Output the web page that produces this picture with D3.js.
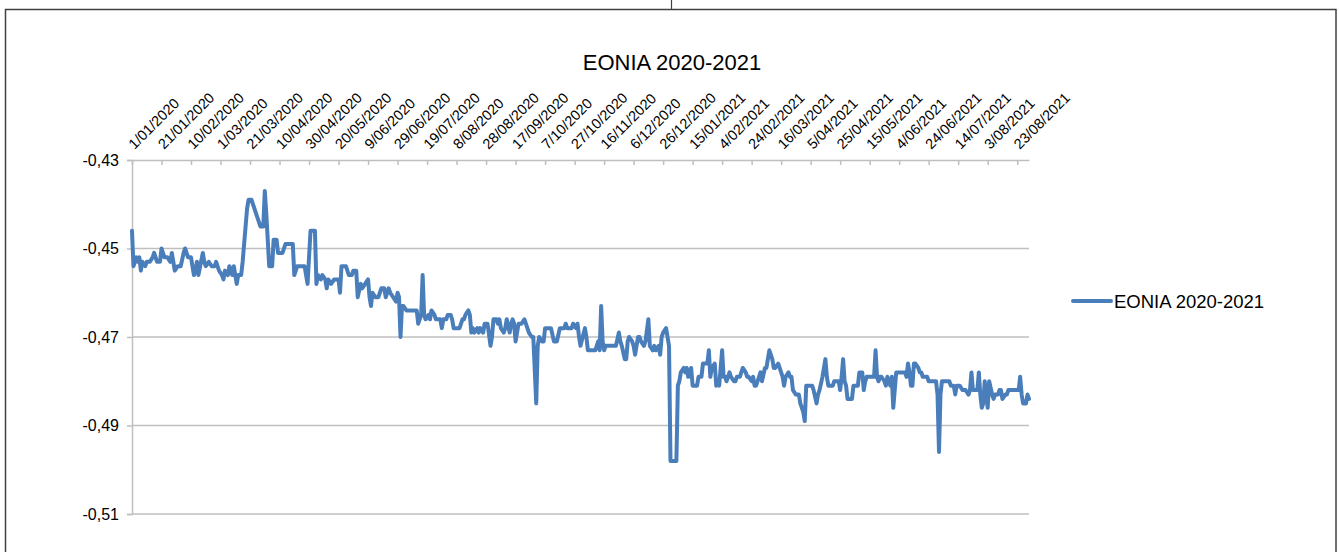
<!DOCTYPE html>
<html><head><meta charset="utf-8">
<script src="https://cdn.jsdelivr.net/npm/d3@7"></script>
<style>
body{margin:0;background:#fff;}
svg{display:block;font-family:"Liberation Sans",Arial,sans-serif;}
</style>
</head><body>
<svg id="chart" width="1339" height="552"></svg>
<script>
const chartTitle = "EONIA 2020-2021";
const seriesName = "EONIA 2020-2021";
const xStart = "2020-01-01", xEnd = "2021-08-31";
const yTicks = [-0.51, -0.49, -0.47, -0.45, -0.43];
const xTickLabels = ["1/01/2020","21/01/2020","10/02/2020","1/03/2020","21/03/2020","10/04/2020","30/04/2020","20/05/2020","9/06/2020","29/06/2020","19/07/2020","8/08/2020","28/08/2020","17/09/2020","7/10/2020","27/10/2020","16/11/2020","6/12/2020","26/12/2020","15/01/2021","4/02/2021","24/02/2021","16/03/2021","5/04/2021","25/04/2021","15/05/2021","4/06/2021","24/06/2021","14/07/2021","3/08/2021","23/08/2021"];

const dates = [
"2020-01-01","2020-01-02","2020-01-04","2020-01-05","2020-01-06","2020-01-07","2020-01-08","2020-01-10","2020-01-11","2020-01-13","2020-01-15","2020-01-16","2020-01-18","2020-01-20","2020-01-21","2020-01-22","2020-01-23","2020-01-25","2020-01-27","2020-01-28","2020-01-29","2020-01-30",
"2020-02-01","2020-02-03","2020-02-05","2020-02-06","2020-02-08","2020-02-10","2020-02-12","2020-02-13","2020-02-14","2020-02-15","2020-02-18","2020-02-19","2020-02-20","2020-02-22","2020-02-24","2020-02-26","2020-02-27","2020-02-29",
"2020-03-02","2020-03-03","2020-03-04","2020-03-06","2020-03-07","2020-03-09","2020-03-10","2020-03-12","2020-03-13","2020-03-15","2020-03-16","2020-03-19","2020-03-20","2020-03-22","2020-03-24","2020-03-25","2020-03-27","2020-03-28","2020-03-30","2020-03-31",
"2020-04-01","2020-04-03","2020-04-05","2020-04-06","2020-04-08","2020-04-09","2020-04-12","2020-04-14","2020-04-19","2020-04-20","2020-04-22","2020-04-25","2020-04-27","2020-04-29",
"2020-05-01","2020-05-04","2020-05-05","2020-05-06","2020-05-08","2020-05-09","2020-05-11","2020-05-12","2020-05-13","2020-05-15","2020-05-17","2020-05-18","2020-05-20","2020-05-21","2020-05-22","2020-05-24","2020-05-25","2020-05-27","2020-05-29","2020-05-30",
"2020-06-01","2020-06-02","2020-06-04","2020-06-05","2020-06-07","2020-06-09","2020-06-10","2020-06-11","2020-06-12","2020-06-14","2020-06-16","2020-06-17","2020-06-18","2020-06-20","2020-06-21","2020-06-23","2020-06-24","2020-06-26","2020-06-28","2020-06-29","2020-06-30",
"2020-07-01","2020-07-02","2020-07-03","2020-07-05","2020-07-07","2020-07-08","2020-07-10","2020-07-12","2020-07-13","2020-07-15","2020-07-16","2020-07-17","2020-07-18","2020-07-20","2020-07-21","2020-07-22","2020-07-24","2020-07-25","2020-07-26","2020-07-28","2020-07-29","2020-07-30",
"2020-08-01","2020-08-02","2020-08-04","2020-08-05","2020-08-06","2020-08-08","2020-08-09","2020-08-10","2020-08-12","2020-08-13","2020-08-14","2020-08-16","2020-08-17","2020-08-18","2020-08-19","2020-08-20","2020-08-22","2020-08-23","2020-08-24","2020-08-26","2020-08-27","2020-08-29","2020-08-31",
"2020-09-01","2020-09-02","2020-09-04","2020-09-05","2020-09-06","2020-09-07","2020-09-09","2020-09-10","2020-09-11","2020-09-13","2020-09-14","2020-09-15","2020-09-16","2020-09-17","2020-09-19","2020-09-20","2020-09-21","2020-09-23","2020-09-25","2020-09-26","2020-09-28","2020-09-29",
"2020-10-01","2020-10-02","2020-10-03","2020-10-05","2020-10-06","2020-10-07","2020-10-09","2020-10-10","2020-10-11","2020-10-13","2020-10-14","2020-10-15","2020-10-17","2020-10-18","2020-10-20","2020-10-21","2020-10-22","2020-10-24","2020-10-25","2020-10-26","2020-10-28","2020-10-29","2020-10-30","2020-10-31",
"2020-11-03","2020-11-04","2020-11-05","2020-11-06","2020-11-08","2020-11-09","2020-11-10","2020-11-12","2020-11-13","2020-11-14","2020-11-15","2020-11-16","2020-11-17","2020-11-18","2020-11-20","2020-11-21","2020-11-22","2020-11-24","2020-11-26","2020-11-27","2020-11-28","2020-11-30",
"2020-12-01","2020-12-02","2020-12-03","2020-12-05","2020-12-06","2020-12-07","2020-12-09","2020-12-10","2020-12-11","2020-12-13","2020-12-14","2020-12-16","2020-12-17","2020-12-19","2020-12-20","2020-12-21","2020-12-23","2020-12-24","2020-12-25","2020-12-26","2020-12-28","2020-12-29","2020-12-30","2020-12-31",
"2021-01-04","2021-01-05","2021-01-06","2021-01-07","2021-01-09","2021-01-10","2021-01-11","2021-01-12","2021-01-14","2021-01-15","2021-01-17","2021-01-18","2021-01-19","2021-01-21","2021-01-22","2021-01-24","2021-01-25","2021-01-26","2021-01-27","2021-01-28","2021-01-30","2021-01-31",
"2021-02-01","2021-02-02","2021-02-04","2021-02-05","2021-02-06","2021-02-07","2021-02-09","2021-02-10","2021-02-12","2021-02-13","2021-02-14","2021-02-16","2021-02-17","2021-02-18","2021-02-20","2021-02-21","2021-02-22","2021-02-24","2021-02-25","2021-02-26","2021-02-27",
"2021-03-01","2021-03-02","2021-03-03","2021-03-05","2021-03-06","2021-03-07","2021-03-08","2021-03-10","2021-03-11","2021-03-12","2021-03-14","2021-03-15","2021-03-17","2021-03-18","2021-03-19","2021-03-21","2021-03-22","2021-03-23","2021-03-24","2021-03-26","2021-03-27","2021-03-28","2021-03-29","2021-03-31",
"2021-04-01","2021-04-02","2021-04-03","2021-04-05","2021-04-06","2021-04-07","2021-04-09","2021-04-10","2021-04-11","2021-04-13","2021-04-14","2021-04-15","2021-04-16","2021-04-17","2021-04-18","2021-04-20","2021-04-21","2021-04-22","2021-04-24","2021-04-25","2021-04-26","2021-04-27","2021-04-28","2021-04-29","2021-04-30",
"2021-05-02","2021-05-03","2021-05-04","2021-05-06","2021-05-07","2021-05-08","2021-05-10","2021-05-11","2021-05-12","2021-05-13","2021-05-15","2021-05-16","2021-05-18","2021-05-19","2021-05-20","2021-05-21","2021-05-22","2021-05-23","2021-05-25","2021-05-26","2021-05-27","2021-05-29","2021-05-30","2021-05-31",
"2021-06-01","2021-06-02","2021-06-04","2021-06-05","2021-06-06","2021-06-08","2021-06-09","2021-06-10","2021-06-11","2021-06-12","2021-06-13","2021-06-14","2021-06-15","2021-06-17","2021-06-18","2021-06-19","2021-06-20","2021-06-22","2021-06-23","2021-06-24","2021-06-26","2021-06-27","2021-06-29","2021-06-30",
"2021-07-01","2021-07-02","2021-07-03","2021-07-04","2021-07-05","2021-07-07","2021-07-08","2021-07-09","2021-07-11","2021-07-12","2021-07-13","2021-07-14","2021-07-15","2021-07-17","2021-07-18","2021-07-19","2021-07-21","2021-07-22","2021-07-23","2021-07-24","2021-07-25","2021-07-27","2021-07-28","2021-07-29","2021-07-30","2021-07-31",
"2021-08-01","2021-08-02","2021-08-03","2021-08-04","2021-08-06","2021-08-07","2021-08-08","2021-08-10","2021-08-11","2021-08-12","2021-08-13","2021-08-15","2021-08-16","2021-08-17","2021-08-19","2021-08-20","2021-08-21","2021-08-23","2021-08-24","2021-08-25","2021-08-26","2021-08-27","2021-08-28","2021-08-29","2021-08-30","2021-08-31"
];

const eonia = [
-0.446,-0.454,-0.452,-0.453,-0.452,-0.455,-0.453,-0.454,-0.453,-0.453,-0.452,-0.451,-0.453,-0.453,-0.450,-0.451,-0.452,-0.452,-0.453,-0.451,-0.453,-0.455,
-0.454,-0.454,-0.451,-0.450,-0.452,-0.452,-0.456,-0.455,-0.453,-0.456,-0.451,-0.453,-0.454,-0.453,-0.454,-0.454,-0.453,-0.455,
-0.456,-0.457,-0.455,-0.456,-0.454,-0.456,-0.454,-0.458,-0.456,-0.456,-0.453,-0.441,-0.439,-0.439,-0.441,-0.442,-0.444,-0.445,-0.445,-0.437,
-0.442,-0.454,-0.454,-0.448,-0.448,-0.451,-0.451,-0.449,-0.449,-0.456,-0.454,-0.454,-0.454,-0.458,
-0.446,-0.446,-0.458,-0.456,-0.457,-0.456,-0.457,-0.459,-0.457,-0.458,-0.457,-0.457,-0.457,-0.460,-0.454,-0.454,-0.454,-0.456,-0.456,-0.455,
-0.455,-0.461,-0.458,-0.459,-0.458,-0.457,-0.461,-0.463,-0.460,-0.461,-0.461,-0.460,-0.459,-0.459,-0.461,-0.459,-0.460,-0.461,-0.462,-0.460,-0.461,
-0.470,-0.463,-0.463,-0.464,-0.464,-0.464,-0.464,-0.464,-0.467,-0.465,-0.456,-0.465,-0.466,-0.465,-0.466,-0.464,-0.465,-0.466,-0.466,-0.466,-0.468,-0.466,
-0.466,-0.465,-0.465,-0.466,-0.468,-0.468,-0.468,-0.468,-0.466,-0.466,-0.465,-0.464,-0.465,-0.469,-0.468,-0.469,-0.468,-0.469,-0.468,-0.469,-0.467,-0.467,-0.472,
-0.470,-0.466,-0.466,-0.467,-0.466,-0.468,-0.469,-0.468,-0.466,-0.469,-0.467,-0.466,-0.467,-0.471,-0.467,-0.467,-0.467,-0.466,-0.468,-0.469,-0.470,-0.470,
-0.485,-0.472,-0.470,-0.471,-0.471,-0.468,-0.468,-0.468,-0.468,-0.471,-0.471,-0.471,-0.468,-0.468,-0.468,-0.467,-0.468,-0.468,-0.468,-0.467,-0.468,-0.467,-0.470,-0.472,
-0.468,-0.470,-0.473,-0.473,-0.473,-0.473,-0.473,-0.471,-0.473,-0.463,-0.471,-0.473,-0.472,-0.472,-0.472,-0.472,-0.472,-0.472,-0.469,-0.471,-0.472,-0.475,
-0.475,-0.471,-0.470,-0.471,-0.472,-0.474,-0.470,-0.470,-0.471,-0.472,-0.471,-0.466,-0.472,-0.473,-0.472,-0.473,-0.472,-0.474,-0.470,-0.469,-0.468,-0.470,-0.472,-0.498,
-0.498,-0.481,-0.480,-0.478,-0.477,-0.478,-0.477,-0.479,-0.477,-0.481,-0.481,-0.481,-0.479,-0.479,-0.476,-0.476,-0.476,-0.473,-0.479,-0.477,-0.476,-0.481,
-0.480,-0.481,-0.473,-0.479,-0.479,-0.480,-0.478,-0.479,-0.480,-0.480,-0.479,-0.479,-0.478,-0.477,-0.478,-0.479,-0.479,-0.480,-0.479,-0.481,-0.481,
-0.479,-0.478,-0.480,-0.477,-0.477,-0.475,-0.473,-0.475,-0.477,-0.477,-0.476,-0.477,-0.479,-0.481,-0.479,-0.478,-0.479,-0.479,-0.482,-0.483,-0.483,-0.483,-0.485,-0.487,
-0.489,-0.481,-0.481,-0.481,-0.481,-0.482,-0.485,-0.483,-0.482,-0.479,-0.477,-0.475,-0.479,-0.481,-0.481,-0.481,-0.480,-0.480,-0.480,-0.482,-0.479,-0.475,-0.480,-0.481,-0.484,
-0.484,-0.484,-0.481,-0.481,-0.481,-0.478,-0.478,-0.482,-0.480,-0.479,-0.479,-0.479,-0.479,-0.473,-0.479,-0.480,-0.479,-0.479,-0.480,-0.481,-0.479,-0.481,-0.479,-0.486,
-0.482,-0.478,-0.478,-0.478,-0.478,-0.478,-0.479,-0.476,-0.478,-0.481,-0.481,-0.476,-0.476,-0.477,-0.478,-0.478,-0.479,-0.479,-0.479,-0.480,-0.480,-0.480,-0.480,-0.483,
-0.496,-0.483,-0.480,-0.480,-0.480,-0.480,-0.480,-0.481,-0.481,-0.483,-0.481,-0.481,-0.481,-0.482,-0.482,-0.482,-0.483,-0.482,-0.478,-0.482,-0.482,-0.482,-0.478,-0.483,-0.486,-0.485,
-0.480,-0.483,-0.486,-0.480,-0.483,-0.484,-0.483,-0.483,-0.482,-0.482,-0.484,-0.483,-0.483,-0.482,-0.482,-0.482,-0.482,-0.482,-0.482,-0.479,-0.483,-0.485,-0.485,-0.485,-0.483,-0.484
];

const parseIso = d3.utcParse("%Y-%m-%d");
const parseLabel = d3.utcParse("%d/%m/%Y");
const points = dates.map((d, i) => ({ date: parseIso(d), value: eonia[i] }));
const tickDates = xTickLabels.map(parseLabel);

const svg = d3.select("#chart");
const plot = { left: 132, right: 1029, top: 160, bottom: 514 };

const x = d3.scaleUtc().domain([parseIso(xStart), parseIso(xEnd)]).range([plot.left, plot.right]);
const y = d3.scaleLinear().domain([d3.min(yTicks), d3.max(yTicks)]).range([plot.bottom, plot.top]);

const gridColor = "#bfbfbf";

// outer frame
svg.append("rect").attr("x", 5.5).attr("y", 9.5).attr("width", 1330.5).attr("height", 560)
  .attr("fill", "none").attr("stroke", "#404040").attr("stroke-width", 1.5);
svg.append("line").attr("x1", 671.5).attr("x2", 671.5).attr("y1", 0).attr("y2", 9.5)
  .attr("stroke", "#404040").attr("stroke-width", 1.2);

// title
svg.append("text").attr("x", 672).attr("y", 70).attr("text-anchor", "middle")
  .attr("font-size", 22).attr("fill", "#000").text(chartTitle);

// gridlines
svg.append("g").selectAll("line").data(yTicks.filter(v => v !== d3.max(yTicks))).join("line")
  .attr("x1", plot.left).attr("x2", plot.right)
  .attr("y1", d => y(d)).attr("y2", d => y(d))
  .attr("stroke", gridColor).attr("stroke-width", 1.5);

// y axis
const yAxis = svg.append("g").attr("transform", `translate(${plot.left},0)`)
  .call(d3.axisLeft(y).tickValues(yTicks).tickSize(5).tickPadding(8)
    .tickFormat(d => d.toFixed(2).replace(".", ",")));
yAxis.select(".domain").attr("stroke", gridColor).attr("stroke-width", 1.5);
yAxis.selectAll(".tick line").attr("stroke", gridColor).attr("stroke-width", 1.5);
yAxis.selectAll(".tick text").attr("font-size", 16).attr("fill", "#000")
  .attr("font-family", "Liberation Sans, Arial, sans-serif");

// top x axis (ticks inside)
const xAxis = svg.append("g").attr("transform", `translate(0,${plot.top})`)
  .call(d3.axisTop(x).tickValues(tickDates).tickSizeInner(-5).tickSizeOuter(0)
    .tickFormat((d, i) => xTickLabels[i]));
xAxis.select(".domain").attr("stroke", gridColor).attr("stroke-width", 1.5);
xAxis.selectAll(".tick line").attr("stroke", gridColor).attr("stroke-width", 1.5);
xAxis.selectAll(".tick text")
  .attr("x", 0).attr("y", 0).attr("dy", null)
  .attr("text-anchor", "start")
  .attr("transform", "translate(2,-10) rotate(-45)")
  .attr("font-size", 14.5).attr("fill", "#000")
  .attr("font-family", "Liberation Sans, Arial, sans-serif");

// series line
const line = d3.line().x(d => x(d.date)).y(d => y(d.value));
svg.append("path").datum(points).attr("d", line)
  .attr("fill", "none").attr("stroke", "#4a7ebb").attr("stroke-width", 4)
  .attr("stroke-linejoin", "round").attr("stroke-linecap", "round");

// legend
const lg = svg.append("g").attr("transform", "translate(1073,301)");
lg.append("line").attr("x1", 0).attr("x2", 38).attr("y1", 0).attr("y2", 0)
  .attr("stroke", "#4a7ebb").attr("stroke-width", 4).attr("stroke-linecap", "round");
lg.append("text").attr("x", 41).attr("y", 6.5).attr("font-size", 18.5).attr("fill", "#000").text(seriesName);
</script>
</body></html>
